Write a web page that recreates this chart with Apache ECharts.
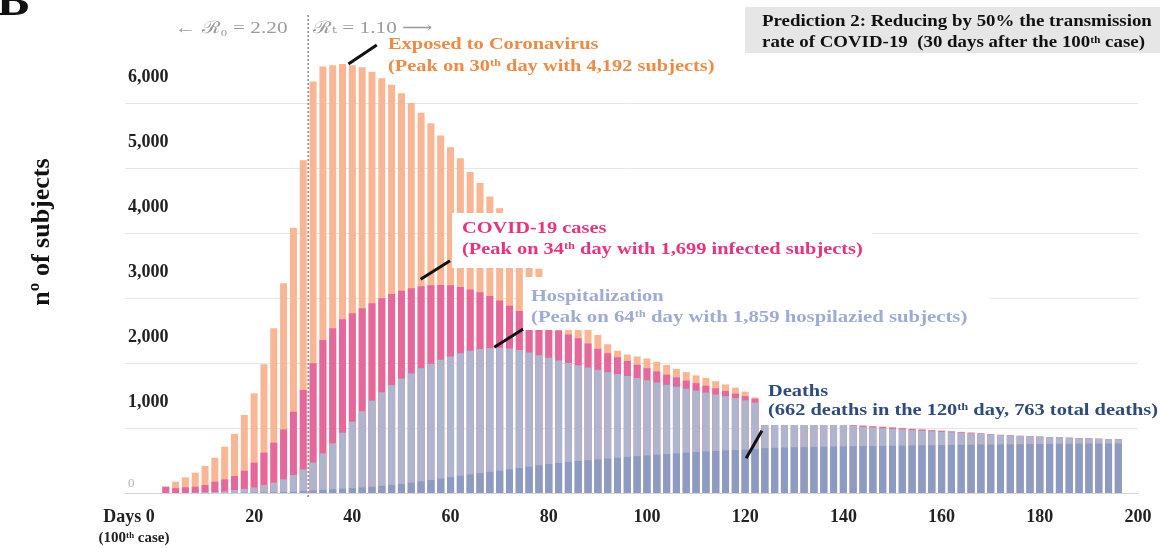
<!DOCTYPE html>
<html><head><meta charset="utf-8">
<script src="https://cdn.jsdelivr.net/npm/echarts@6/dist/echarts.min.js"></script>
<style>html,body{margin:0;padding:0;background:#fff}#c{width:1160px;height:548px}</style>
</head><body><div id="c"></div>
<script>
// ---- data ----
const days = Array.from({length: 98}, (_, i) => 2 + 2 * i); // one bar every 2 days
const exposed = [97,174,241,313,415,543,713,908,1200,1533,1979,2533,3226,4080,5120,
  6330,6560,6580,6600,6580,6550,6480,6380,6280,6150,6000,5850,5690,5500,5320,5150,4940,4770,4560,4380,
  4200,3950,3700,3450,3270,3100,2930,2760,2590,2430,2290,2190,2130,2100,2070,2020,1970,1910,1860,1810,1770,1720,1670,1620,1560,1470,
  1046,1046,1046,1046,1046,1046,1046,1046,1046,1046,
  1040,1030,1022,1012,1002,992,982,972,962,952,942,932,920,905,
  895,888,880,874,868,862,856,851,846,841,836,831,826];
const cases = [97,75,88,97,123,174,210,262,343,467,621,774,979,1251,1585,
  1995,2354,2533,2672,2764,2841,2918,2995,3060,3110,3150,3180,3195,3200,3195,3170,3130,3090,3030,2960,
  2880,2800,2720,2640,2570,2500,2440,2380,2300,2220,2150,2090,2030,1975,1920,1870,1820,1780,1730,1690,1650,1610,1570,1530,1490,1450,
  1046,1046,1046,1046,1046,1046,1046,1046,1046,1046,
  1035,1025,1015,1005,995,985,975,965,955,945,935,926,916,903,
  895,888,880,874,868,862,856,851,846,841,836,831,826];
const hospital = [0,0,0,5,10,15,25,46,62,87,123,159,210,277,364,
  467,610,764,928,1097,1260,1420,1550,1660,1760,1840,1920,1990,2050,2100,2150,2190,2215,2230,2235,
  2225,2200,2160,2120,2080,2040,2000,1965,1930,1895,1860,1830,1800,1770,1735,1700,1665,1635,1605,1575,1545,1515,1490,1460,1425,1390,
  1046,1046,1046,1046,1046,1046,1046,1046,1046,1040,
  1020,1008,998,988,978,968,958,950,942,935,928,920,912,900,
  893,886,878,872,866,860,854,849,844,839,834,829,824];
const deaths = [0,0,0,0,0,0,0,2,4,6,8,10,14,20,30,
  40,50,58,66,75,85,95,110,125,140,158,178,200,222,244,265,285,305,325,345,
  365,385,405,425,445,462,478,492,505,517,530,542,555,567,578,590,600,610,620,630,640,648,655,662,668,675,
  690,695,699,703,706,709,712,715,717,719,721,723,725,727,729,731,733,735,737,739,741,743,745,746,748,
  749,751,752,754,755,757,758,759,760,761,762,763];
const xTicks = [0,20,40,60,80,100,120,140,160,180,200];
const changeDay = 31; // switch from R0 to Rt
// leader lines for the annotations, in data coordinates [day, value]
const leaders = [
  [[44.97,6892],[39.2,6600]],
  [[59.9,3574],[53.9,3288]],
  [[74.8,2523],[68.9,2242]],
  [[123.4,958],[120.2,534]]
];

// ---- styles ----
const serif = '"Liberation Serif","DejaVu Serif",serif';
const colors = {exposed:'#F8B695', cases:'#E6679B', hospital:'#ADB5CF', deaths:'#8C9BC1'};

function bar(name, arr, color, extra){
  return Object.assign({
    name, type:'bar', data: days.map((d,i)=>[d, arr[i]]),
    barWidth: 7, barGap:'-100%', itemStyle:{color}, silent:true
  }, extra||{});
}
function fmt(v){ return v.toLocaleString('en-US'); }
function t(x, y, text, font, fill, sx, va){
  return {type:'text', x, y, scaleX:sx, z:20, silent:true,
    style:{text, font, fill, align:'left', verticalAlign: va||'middle'}};
}

const chart = echarts.init(document.getElementById('c'));
const graphics = [
  // white label backgrounds
  {type:'rect', z:15, shape:{x:452,y:213,width:420,height:55}, style:{fill:'#fff'}},
  {type:'rect', z:15, shape:{x:523,y:277,width:467,height:53}, style:{fill:'#fff'}},
  {type:'rect', z:15, shape:{x:760,y:380,width:400,height:43}, style:{fill:'#fff'}},
  {type:'rect', z:15, shape:{x:745,y:7,width:415,height:46}, style:{fill:'#e6e6e6'}},
  t(-3, 26, 'B', 'bold 44px '+serif, '#111', 1.1, 'bottom'),
  t(175, 29, '← ℛ₀ = 2.20', '17px '+serif, '#9a9a9a', 1.25),
  t(313, 29, 'ℛₜ = 1.10 ⟶', '17px '+serif, '#9a9a9a', 1.25),
  t(388, 45, 'Exposed to Coronavirus', 'bold 17px '+serif, '#EE8A45', 1.2),
  t(388, 67, '(Peak on 30ᵗʰ day with 4,192 subjects)', 'bold 17px '+serif, '#EE8A45', 1.2),
  t(462, 229, 'COVID-19 cases', 'bold 17px '+serif, '#E6347E', 1.2),
  t(462, 250, '(Peak on 34ᵗʰ day with 1,699 infected subjects)', 'bold 17px '+serif, '#E6347E', 1.2),
  t(531, 297, 'Hospitalization', 'bold 17px '+serif, '#9DABD6', 1.2),
  t(531, 318, '(Peak on 64ᵗʰ day with 1,859 hospilazied subjects)', 'bold 17px '+serif, '#9DABD6', 1.22),
  t(768, 392, 'Deaths', 'bold 17px '+serif, '#2F4A7C', 1.2),
  t(768, 411, '(662 deaths in the 120ᵗʰ day, 763 total deaths)', 'bold 17px '+serif, '#2F4A7C', 1.2),
  t(762, 22, 'Prediction 2: Reducing by 50% the transmission', 'bold 16px '+serif, '#111', 1.18),
  t(762, 43, 'rate of COVID-19  (30 days after the 100ᵗʰ case)', 'bold 16px '+serif, '#111', 1.18)
];
chart.setOption({
  animation:false,
  backgroundColor:'#fff',
  grid:{left:125, right:22, top:38, bottom:55},
  xAxis:{
    type:'value', min:-6.3, max:200,
    splitLine:{show:false}, axisTick:{show:false},
    axisLine:{show:true, lineStyle:{color:'#d6d6d6', width:1}},
    axisLabel:{
      customValues: xTicks, margin:13,
      formatter: v => v===0 ? '{d|Days 0}\n{c|(100ᵗʰ case)}' : '{n|'+v+'}',
      rich:{
        n:{fontFamily:serif, fontSize:18, fontWeight:'bold', color:'#222', lineHeight:22},
        d:{fontFamily:serif, fontSize:18, fontWeight:'bold', color:'#222', lineHeight:22, padding:[0,54,0,0]},
        c:{fontFamily:serif, fontSize:15, fontWeight:'bold', color:'#222', lineHeight:20, padding:[0,44,0,0]}
      }
    }
  },
  yAxis:{
    type:'value', min:0, max:7000, interval:1000,
    name:'nº of subjects', nameLocation:'middle', nameRotate:90, nameGap:70,
    nameTextStyle:{fontFamily:serif, fontSize:26, fontWeight:'bold', color:'#111', padding:[0,0,0,67]},
    axisLine:{show:false}, axisTick:{show:false},
    splitLine:{show:true, showMaxLine:false, lineStyle:{color:'#e6e6e6', width:1}},
    axisLabel:{
      inside:true, margin:3,
      formatter: v => v===0 ? '{z|0}' : (v>6000 ? '' : '{a|'+fmt(v)+'}'),
      rich:{
        a:{fontFamily:serif, fontSize:18, fontWeight:'bold', color:'#222', padding:[0,0,52,0]},
        z:{fontFamily:serif, fontSize:13, color:'#b4b4b4', padding:[0,0,18,0]}
      }
    }
  },
  series:[
    bar('Exposed', exposed, colors.exposed),
    bar('COVID-19 cases', cases, colors.cases),
    bar('Hospitalization', hospital, colors.hospital),
    bar('Deaths', deaths, colors.deaths, {
      markLine:{
        silent:true, symbol:['none','none'], label:{show:false}, animation:false,
        data: leaders.map(l => [{coord:l[0], lineStyle:{color:'#111', width:3, type:'solid'}}, {coord:l[1]}])
      }
    })
  ],
  graphic: graphics
});
// dotted divider at the change day, placed through the x axis scale
const cx = chart.convertToPixel({xAxisIndex:0}, changeDay);
graphics.push({type:'line', z:12, silent:true,
  shape:{x1:cx, y1:15, x2:cx, y2:498},
  style:{stroke:'#8a8a8a', lineWidth:1.5, lineDash:[2,2]}});
chart.setOption({graphic: graphics}, {replaceMerge:['graphic']});
</script></body></html>
